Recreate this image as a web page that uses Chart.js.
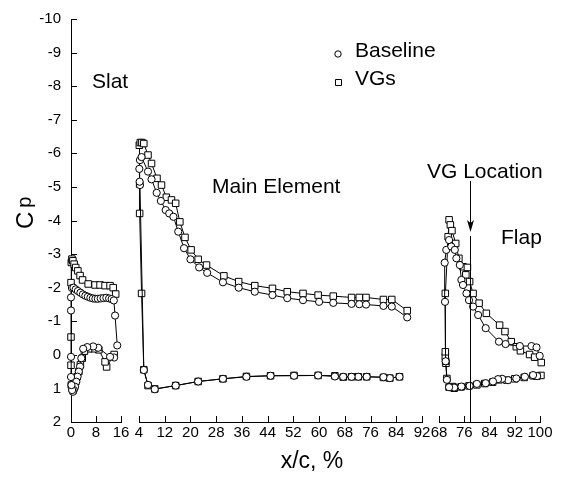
<!DOCTYPE html>
<html><head><meta charset="utf-8">
<script src="https://cdn.jsdelivr.net/npm/chart.js@4"></script>
<style>
html,body{margin:0;padding:0;background:#fff;}
#wrap{position:relative;width:564px;height:477px;overflow:hidden;}
canvas{position:absolute;left:0;top:0;}
</style></head><body>
<div id="wrap">
<canvas id="cSlat" width="564" height="477"></canvas>
<canvas id="cMain" width="564" height="477"></canvas>
<canvas id="cFlap" width="564" height="477"></canvas>
</div>
<script>
// ---------- DATA ----------
const seriesNames = ["Baseline", "VGs"];
const yTicks = [-10,-9,-8,-7,-6,-5,-4,-3,-2,-1,0,1,2];
const slatTicks = [0, 8, 16];
const mainTicks = [4, 12, 20, 28, 36, 44, 52, 60, 68, 76, 84, 92];
const flapTicks = [68, 76, 84, 92, 100];
const vgLocation = 77.7;

// Slat (path: lower TE -> LE -> upper TE)
const slatBaseX = [13.8,12.5,8.7,7.1,5.2,3.9,3.3,2.9,2.5,2.1,1.7,1.3,0.9,0.6,0.35,0.15,0,0,
                   0,0,0.3,0.8,1.5,2.2,3.0,3.8,4.6,5.4,6.2,7.0,7.8,8.6,9.5,10.4,11.3,12.2,13.0,13.7,14.1,14.8];
const slatBaseCp = [0.08,0.06,-0.21,-0.25,-0.23,-0.18,0.1,0.35,0.5,0.65,0.8,0.95,1.05,1.1,1.05,0.9,0.66,0.06,
                   -1.32,-1.71,-1.99,-2.0,-1.95,-1.9,-1.85,-1.8,-1.76,-1.73,-1.7,-1.68,-1.67,-1.67,-1.68,-1.69,-1.7,-1.68,-1.66,-1.62,-1.17,-0.28];
const slatVGX = [13.8,11.4,10.9,8.9,7.3,5.6,4.3,3.6,3.0,2.5,2.0,1.5,1.1,0.7,0.4,0.1,0,0,
                 0,0.1,0.3,0.6,1.0,1.5,2.2,2.9,3.7,5.5,7.7,9.3,10.9,12.5,13.5,14.3];
const slatVGCp = [-0.01,0.36,0.21,-0.15,-0.18,-0.18,-0.11,0.1,0.3,0.5,0.65,0.8,0.95,1.05,1.0,0.9,0.31,-0.53,
                  -2.15,-2.75,-2.85,-2.8,-2.7,-2.6,-2.5,-2.36,-2.23,-2.11,-2.08,-2.08,-2.06,-2.06,-2.0,-1.81];

// Main element (path: lower TE -> LE -> upper TE)
const mainBaseX = [85,82,80,74.8,72.2,70.1,67.5,64.9,59.7,52.2,44.9,37.4,30.1,22.4,15.4,8.9,6.8,5.5,4.3,
                   4.2,4.1,4.3,4.8,6.8,7.9,9.5,10.8,12.3,13.4,14.7,16.2,18,20,22.7,25.2,30.1,35,40,45.5,50.1,55,60,64.4,70.1,72.5,74.6,80,82.6,87.4];
const mainBaseCp = [0.66,0.7,0.67,0.66,0.66,0.66,0.66,0.65,0.62,0.63,0.63,0.66,0.72,0.8,0.92,1.03,0.9,0.46,-5.02,
                   -5.12,-5.5,-5.76,-5.85,-5.42,-5.19,-4.79,-4.55,-4.28,-4.18,-4.08,-3.64,-3.15,-2.82,-2.58,-2.42,-2.14,-1.98,-1.86,-1.76,-1.67,-1.61,-1.56,-1.53,-1.5,-1.49,-1.48,-1.44,-1.42,-1.1];
const mainVGX = [85,82,80,74.8,72.2,70.1,67.5,64.9,59.7,52.2,44.9,37.4,30.1,22.4,15.4,8.9,6.8,5.5,4.8,4.2,4.2,
                 4.1,4.4,4.9,5.5,6.8,7.9,9.6,11.0,12.5,14.1,15.4,16.7,18.3,20.2,22.4,25,30.4,35,40,45.5,50.1,55,59.7,64.4,70.1,72.5,74.6,80,82.6,87.4];
const mainVGCp = [0.66,0.7,0.68,0.66,0.66,0.66,0.67,0.63,0.62,0.62,0.63,0.65,0.72,0.8,0.92,1.02,0.92,0.45,-1.81,-4.18,-5.05,
                  -6.2,-6.28,-6.28,-6.25,-5.91,-5.66,-5.22,-5.02,-4.66,-4.58,-4.48,-3.93,-3.47,-3.1,-2.82,-2.65,-2.33,-2.16,-2.04,-1.96,-1.86,-1.81,-1.76,-1.73,-1.69,-1.69,-1.69,-1.63,-1.63,-1.3];

// Flap (path: lower TE -> LE -> upper TE)
const flapBaseX = [99.1,97.8,95.2,92.5,89.9,88,86.7,85.1,82.8,80,77.7,75.1,72.8,71.2,70.5,70.1,
                   69.9,69.8,70.3,71.2,71.9,73.0,73.5,74.6,75.1,75.6,76.7,77.5,78.8,80.4,82.8,87.0,89.1,93.6,97.3,98.9,99.9];
const flapBaseCp = [0.64,0.61,0.66,0.71,0.76,0.72,0.73,0.8,0.85,0.87,0.93,0.95,0.98,0.97,0.75,0.2,
                   -1.56,-2.72,-3.1,-3.39,-3.2,-3.1,-2.85,-2.65,-2.21,-2.06,-1.81,-1.61,-1.42,-1.17,-0.78,-0.38,-0.31,-0.25,-0.25,-0.21,0.04];
const flapVGX = [100.3,99,97.8,95,92,89.5,87,85,82.5,80,77.5,75,72.8,72.4,71.2,70.5,70.2,70.1,70.0,70.0,
                 70.0,70.9,71.2,71.6,72.1,73.3,74.3,75.6,77.0,76.5,77.7,78.8,80.7,83.0,87.2,88.9,90.9,92.5,93.8,96.7,98.3,100.4];
const flapVGCp = [0.62,0.64,0.63,0.68,0.72,0.76,0.75,0.82,0.86,0.9,0.93,0.96,1.0,0.95,0.97,0.71,0.26,0.2,0.06,-0.08,
                  -1.81,-3.49,-3.99,-3.84,-3.67,-3.29,-2.85,-2.6,-2.58,-2.36,-2.16,-1.81,-1.52,-1.22,-0.87,-0.68,-0.38,-0.23,-0.11,0.0,0.08,0.24];

// ---------- STYLE / HELPERS ----------
const FONT = "'Liberation Sans', Arial, sans-serif";
const pts = (xs, ys) => xs.map((x, i) => ({x: x, y: ys[i]}));
function ds(label, xs, ys, shape) {
  return {
    label: label, data: pts(xs, ys), showLine: true, tension: 0, clip: false,
    borderColor: '#000', borderWidth: 1, backgroundColor: '#fff',
    pointStyle: shape, pointRadius: shape === 'circle' ? 3.6 : 4.6,
    pointBackgroundColor: '#fff', pointBorderColor: '#000', pointBorderWidth: 1,
    pointHoverRadius: shape === 'circle' ? 3.6 : 4.6
  };
}
const inwardTicks = {
  id: 'inwardTicks',
  beforeDatasetsDraw(chart) {
    const ctx = chart.ctx, a = chart.chartArea;
    ctx.save(); ctx.strokeStyle = '#000'; ctx.lineWidth = 1; ctx.beginPath();
    const xs = chart.scales.x;
    xs.ticks.forEach(t => { const px = Math.round(xs.getPixelForValue(t.value)) + 0.5; ctx.moveTo(px, a.bottom); ctx.lineTo(px, a.bottom - 6); });
    if (chart.options.scales.y.display) {
      const ys = chart.scales.y;
      ys.ticks.forEach(t => { const py = Math.round(ys.getPixelForValue(t.value)) + 0.5; ctx.moveTo(a.left, py); ctx.lineTo(a.left + 6, py); });
    }
    ctx.stroke(); ctx.restore();
  }
};
function makeChart(id, xMin, xMax, xTicks, padL, padR, showY, datasets, extra) {
  return new Chart(document.getElementById(id), {
    type: 'scatter',
    data: {datasets: datasets},
    options: {
      responsive: false, animation: false, devicePixelRatio: 1, events: [],
      layout: {padding: {left: padL, right: padR, top: 17, bottom: 0}},
      plugins: {legend: {display: false}, tooltip: {enabled: false}},
      scales: {
        x: {
          type: 'linear', min: xMin, max: xMax,
          afterBuildTicks: s => { s.ticks = xTicks.map(v => ({value: v})); },
          afterFit: s => { s.height = 55; },
          grid: {display: true, drawOnChartArea: false, drawTicks: false},
          border: {display: true, color: '#000', width: 1},
          ticks: {color: '#000', font: {family: FONT, size: 15}, padding: 2, maxRotation: 0, autoSkip: false}
        },
        y: {
          display: showY, type: 'linear', reverse: true, min: -10, max: 2,
          afterBuildTicks: s => { s.ticks = yTicks.map(v => ({value: v})); },
          afterFit: s => { s.width = showY ? 71 : 0; },
          grid: {display: true, drawOnChartArea: false, drawTicks: false},
          border: {display: true, color: '#000', width: 1},
          ticks: {color: '#000', font: {family: FONT, size: 15}, padding: 10}
        }
      }
    },
    plugins: [inwardTicks].concat(extra || [])
  });
}

const annotations = {
  id: 'annotations',
  afterDraw(chart) {
    const ctx = chart.ctx;
    ctx.save();
    ctx.fillStyle = '#000'; ctx.strokeStyle = '#000'; ctx.textBaseline = 'alphabetic';
    ctx.font = "21px " + FONT; ctx.textAlign = 'left';
    ctx.fillText("Slat", 92, 87.5);
    ctx.fillText("Main Element", 212, 193);
    ctx.fillText("VG Location", 427, 178);
    ctx.fillText("Flap", 501, 244);
    ctx.fillText(seriesNames[0], 355, 57);
    ctx.fillText(seriesNames[1], 355, 85);
    ctx.lineWidth = 1; ctx.fillStyle = '#fff';
    ctx.beginPath(); ctx.arc(338, 54, 3.2, 0, Math.PI * 2); ctx.fill(); ctx.stroke();
    ctx.beginPath(); ctx.rect(335.5, 79.5, 6, 6); ctx.fill(); ctx.stroke();
    ctx.fillStyle = '#000';
    const xs = chart.scales.x;
    const vx = Math.round(xs.getPixelForValue(vgLocation)) + 0.5;
    ctx.beginPath(); ctx.moveTo(vx, 236); ctx.lineTo(vx, chart.chartArea.bottom); ctx.stroke();
    ctx.beginPath(); ctx.moveTo(vx, 181); ctx.lineTo(vx, 226); ctx.stroke();
    ctx.beginPath(); ctx.moveTo(vx - 3.5, 220); ctx.lineTo(vx, 232); ctx.lineTo(vx + 3.5, 220); ctx.lineTo(vx, 223); ctx.closePath(); ctx.fill();
    ctx.font = "23px " + FONT; ctx.textAlign = 'center';
    ctx.fillText("x/c, %", 312, 468);
    ctx.save(); ctx.translate(33, 229); ctx.rotate(-Math.PI / 2);
    ctx.textAlign = 'left'; ctx.font = "24px " + FONT; ctx.fillText("C", 0, 0);
    const cw = ctx.measureText("C").width;
    ctx.font = "20px " + FONT; ctx.fillText("p", cw + 4, -2);
    ctx.restore();
    ctx.restore();
  }
};

makeChart('cSlat', 0, 16, slatTicks, 0, 443, true, [
  ds(seriesNames[0], slatBaseX, slatBaseCp, 'circle'),
  ds(seriesNames[1], slatVGX, slatVGCp, 'rect')
]);
makeChart('cMain', 4, 92, mainTicks, 139, 142, false, [
  ds(seriesNames[0], mainBaseX, mainBaseCp, 'circle'),
  ds(seriesNames[1], mainVGX, mainVGCp, 'rect')
]);
makeChart('cFlap', 68, 100, flapTicks, 439, 24, false, [
  ds(seriesNames[0], flapBaseX, flapBaseCp, 'circle'),
  ds(seriesNames[1], flapVGX, flapVGCp, 'rect')
], [annotations]);
</script>
</body></html>
